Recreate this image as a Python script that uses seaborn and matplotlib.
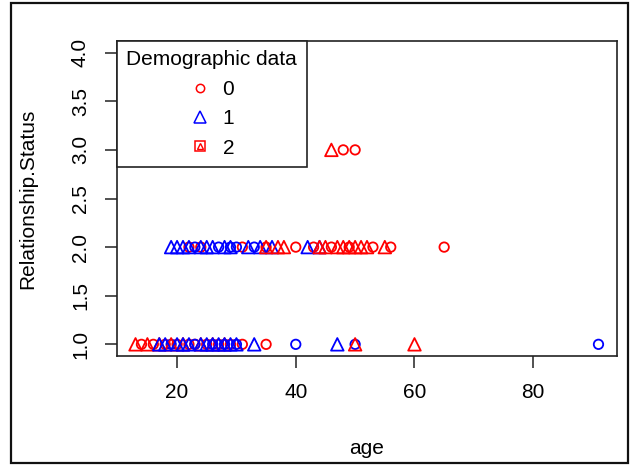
import numpy as np
import pandas as pd
import matplotlib
matplotlib.use("Agg")
import matplotlib.pyplot as plt
from matplotlib.lines import Line2D
from matplotlib.legend_handler import HandlerTuple
from matplotlib.patches import Rectangle
import seaborn as sns

# ages, grouped by status / colour / symbol
status1_red_tri = [13, 15, 17, 19, 21, 24, 26, 28, 50, 60]
status1_red_circ = [14, 16, 18, 20, 22, 23, 25, 27, 29, 31, 35]
status1_blue_tri = [17, 18, 20, 21, 22, 24, 25, 26, 27, 28, 29, 30, 33, 47]
status1_blue_circ = [19, 23, 26, 28, 30, 40, 50, 91]

status2_blue_tri = [19, 20, 21, 22, 24, 25, 26, 28, 29, 32, 34, 36, 42, 44]
status2_red_circ = [22, 24, 31, 35, 40, 43, 46, 49, 53, 56, 65]
status2_blue_circ = [23, 27, 29, 30, 33]
status2_red_tri = [35, 37, 38, 44, 45, 47, 48, 49, 50, 51, 52, 55]

status3_red_tri = [46]
status3_red_circ = [48, 50]

legend_labels = ["0", "1", "2"]

groups = [
    (status1_red_tri, 1, "red", "tri"), (status1_red_circ, 1, "red", "circ"),
    (status1_blue_tri, 1, "blue", "tri"), (status1_blue_circ, 1, "blue", "circ"),
    (status2_blue_tri, 2, "blue", "tri"), (status2_red_circ, 2, "red", "circ"),
    (status2_blue_circ, 2, "blue", "circ"), (status2_red_tri, 2, "red", "tri"),
    (status3_red_tri, 3, "red", "tri"), (status3_red_circ, 3, "red", "circ"),
]
rows = []
for ages, st, col, shp in groups:
    for a in ages:
        rows.append({"age": a, "Relationship.Status": st, "col": col, "shape": shp})
df = pd.DataFrame(rows)

sns.set_style("white")
plt.rcParams["font.family"] = ["Liberation Sans", "DejaVu Sans"]
plt.rcParams["text.color"] = "black"
plt.rcParams["axes.labelcolor"] = "black"
plt.rcParams["xtick.color"] = "black"
plt.rcParams["ytick.color"] = "black"

fig = plt.figure(figsize=(6.33, 4.65), dpi=100)
ax = fig.add_axes([117 / 633, 1 - 356 / 465, 500 / 633, 315 / 465])

pal = {"red": "#FF0000", "blue": "#0000FF"}
for shp, mk, s in [("circ", "o", 46), ("tri", "^", 82)]:
    sub = df[df["shape"] == shp]
    sns.scatterplot(data=sub, x="age", y="Relationship.Status", hue="col",
                    palette=pal, marker=mk, s=s, legend=False, ax=ax, linewidth=1.3)
for coll in ax.collections:
    fc = coll.get_facecolors()
    coll.set_edgecolors(fc)
    coll.set_facecolors("none")

ax.set_xlim(9.88, 94.12)
ax.set_ylim(0.88, 4.12)
ax.set_xticks([20, 40, 60, 80])
ax.set_yticks([1.0, 1.5, 2.0, 2.5, 3.0, 3.5, 4.0])
ax.set_yticklabels(["1.0", "1.5", "2.0", "2.5", "3.0", "3.5", "4.0"], rotation=90, va="center")
ax.tick_params(axis="both", direction="out", length=8.5, width=1.1, color="#222222",
               labelcolor="black", labelsize=15, pad=11, left=True, bottom=True)
for sp in ax.spines.values():
    sp.set_color("#222222")
    sp.set_linewidth(1.2)

ax.set_xlabel("age", fontsize=15, color="black")
ax.set_ylabel("Relationship.Status", fontsize=15, color="black")
ax.xaxis.set_label_coords(0.5, -0.265)
ax.yaxis.set_label_coords(-0.16, 0.5)

h0 = Line2D([], [], linestyle="none", marker="o", markersize=6, markerfacecolor="none",
            markeredgecolor="#FF0000", markeredgewidth=1.1)
h1 = Line2D([], [], linestyle="none", marker="^", markersize=9, markerfacecolor="none",
            markeredgecolor="#0000FF", markeredgewidth=1.1)
h2a = Line2D([], [], linestyle="none", marker="s", markersize=7.5, markerfacecolor="none",
             markeredgecolor="#FF0000", markeredgewidth=1.1)
h2b = Line2D([], [], linestyle="none", marker="^", markersize=5, markerfacecolor="none",
             markeredgecolor="#FF0000", markeredgewidth=1.0)
leg = ax.legend([h0, h1, (h2a, h2b)], legend_labels, title="Demographic data",
                handler_map={tuple: HandlerTuple(ndivide=1)},
                loc="upper left", bbox_to_anchor=(0, 1), borderaxespad=0,
                frameon=True, fancybox=False, edgecolor="#222222", framealpha=1,
                fontsize=15, title_fontsize=15, handlelength=1.0, handletextpad=0.6,
                labelspacing=0.5, borderpad=0.45)
leg.get_frame().set_linewidth(1.2)
leg.get_title().set_color("black")

fig.patches.append(Rectangle((11 / 633, 2 / 465), 617 / 633, 460 / 465, transform=fig.transFigure,
                             fill=False, edgecolor="#111111", linewidth=1.6))

fig.savefig("out.png", dpi=100)
